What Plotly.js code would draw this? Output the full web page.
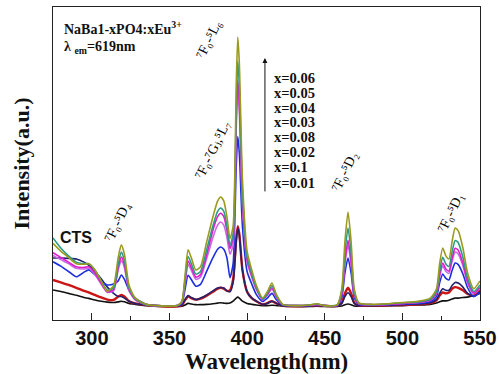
<!DOCTYPE html>
<html><head><meta charset="utf-8">
<script src="https://cdn.plot.ly/plotly-3.0.1.min.js"></script>
<style>body{margin:0;background:#fff}#c{width:499px;height:374px}</style>
</head><body><div id="c"></div>
<script>
const wavelength = [275,280,285,290,295,298,302,306,310,314,317,319,321,324,328,335,345,355,358,360,362,364,367,370,374,378,381,383,385,387,389,391,393,394,395,397,400,403,406,410,413,416,419,423,430,440,445,450,458,461,463,465,467,469,472,480,490,500,510,518,522,524,526,528,530,532,534,536,539,542,546,550];

const x006 = [24.5,22,20,18,17.8,18,16,12.5,9.2,11,20,24,21,11,7,5,4.5,4.6,6,14,22.4,20,16,17,25,33,38,39.3,38,33,26,30,75,90.4,82,45,22,16,11,7,9,11.8,8,5,4.6,4.8,5.2,4.6,4.8,10,25,34.5,25,10,5.5,5,5.2,5.6,6,7,10,18,23,20.5,19.5,25,29.4,28.5,23,15,10,12.5];
const x005 = [26.2,23,20.5,18.5,18,18,16,12.5,9.5,10.2,18.1,21.7,19,10.2,6.7,4.9,4.5,4.6,5.8,12.9,20.3,18.1,14.6,15.5,22.5,30.1,34.7,35.8,34.7,30.1,23.9,27.4,68,82.7,75,41.4,20.2,14.8,10.3,6.7,8.5,11,7.6,4.9,4.6,4.8,5.1,4.6,4.8,9.1,21.5,29.4,21.5,9.1,5.4,4.9,5.1,5.5,5.8,6.6,9.1,15.8,20,17.9,17.1,21.7,25.4,24.7,20,13.3,9.1,11.2];
const x004 = [21.5,20,18.5,17,16.8,17,15,11.8,9,9.7,16.9,20.1,17.7,9.7,6.5,4.9,4.5,4.6,5.7,12.1,18.8,16.9,13.7,14.5,20.9,28.7,33,34.1,33,28.7,22.8,26.2,63.7,76.7,69.6,38.5,19.2,14.2,10,6.5,8.1,10.3,7.3,4.9,4.6,4.7,5,4.6,4.7,8.4,18.9,25.5,18.9,8.4,5.2,4.9,5,5.3,5.6,6.4,8.6,14.5,18.2,16.3,15.6,19.7,22.9,22.3,18.2,12.3,8.6,10.4];
const x003 = [20.6,19.3,18,16.5,16.3,16.5,14.5,11.5,8.8,9.3,16,19,16.7,9.3,6.4,4.9,4.5,4.6,5.6,11.5,17.7,16,13,13.7,19.7,26.4,30.3,31.3,30.3,26.4,21,24.1,60.9,73.2,66.5,36.9,18.5,13.7,9.7,6.5,7.9,9.9,7.1,4.9,4.6,4.7,5,4.6,4.7,8.2,17.8,24,17.8,8.2,5.2,4.9,5,5.3,5.6,6.3,8.4,13.9,17.3,15.5,14.9,18.7,21.7,21.1,17.3,11.8,8.4,10.2];
const x008 = [18.6,17.2,15.5,13.8,15.3,16,14.5,12.4,11.2,11.5,12.5,14.4,13,9.5,7,5,4.5,4.6,5.3,9.7,14.3,13,10.8,11.4,15.6,19.9,22.6,23.3,22.6,19.9,13.5,18,48.9,58.6,53.3,30,15.5,11.5,8.1,5.9,7,8.5,6.4,4.8,4.6,4.6,4.9,4.6,4.6,7.3,15,19.8,15,7.3,5,4.8,4.9,5.1,5.3,5.9,7.5,11.9,14.7,13.3,12.8,15.8,18.2,17.7,14.7,10.3,7.5,9];
const x002 = [19.8,19.8,19.7,19.5,18.5,17.5,15.5,13.2,10.5,8.5,7.5,7.5,7,6,5.3,4.8,4.5,4.5,4.8,6.5,7.8,7.2,6.5,7,8,9.3,10.2,10.4,10.2,9.3,9,12,25,29.4,27,16,9,7,6,5,5.3,6,5.3,4.6,4.5,4.5,4.6,4.5,4.5,5.3,7.5,8.7,7.5,5.3,4.6,4.6,4.7,4.9,5.1,5.5,6.5,8.5,10,9.5,9.5,11,12,11.8,10.5,8.5,7.5,9];
const x01 = [12.8,12,11.2,10.3,9.3,8.8,8,7.2,6.5,6.4,7.5,8,7.5,6,5.3,4.8,4.4,4.4,4.7,6.3,7.5,7,6.5,6.8,7.8,9,10,10.3,10,9.3,9.5,13,26,30,27.5,16,9,7,6,5,5.4,6,5.3,4.6,4.4,4.5,4.6,4.5,4.5,5.5,8.5,10.3,8.5,5.5,4.6,4.6,4.7,4.8,5,5.4,6.3,7.8,8.8,8.5,8.8,10,10.5,10.3,9.5,8.3,7.8,9.5];
const x001 = [9.6,9.1,8.5,7.9,7.2,6.9,6.4,6,5.7,5.6,5.8,6,5.8,5.3,5,4.6,4.3,4.3,4.4,4.8,5.3,5.1,4.9,4.9,5,5.2,5.4,5.5,5.4,5.3,5.4,6,7,7.3,7,6,5.3,5,4.8,4.6,4.6,4.7,4.6,4.4,4.3,4.3,4.4,4.3,4.3,4.5,4.9,5.1,4.9,4.5,4.4,4.4,4.5,4.6,4.8,5,5.4,5.8,6.1,6.1,6.3,6.7,7,7,7.2,7.3,7.8,8.5];

const seriesNames = ["x=0.01","x=0.1","x=0.02","x=0.08","x=0.03","x=0.04","x=0.05","x=0.06"];
const seriesData = [x001,x01,x002,x008,x003,x004,x005,x006];
const seriesColors = ["#111111","#cc1414","#22226e","#1c2ee0","#c86ae8","#e01ec8","#2a9a8a","#9a9a1e"];
const seriesWidths = [1.6,2.4,1.6,1.6,1.6,1.6,1.6,1.6];
const legendOrder = ["x=0.06","x=0.05","x=0.04","x=0.03","x=0.08","x=0.02","x=0.1","x=0.01"];
const transitionLabels = ["⁷F₀-⁵D₄","⁷F₀-⁷Gⱼ,⁵L₇","⁷F₀-⁵L₆","⁷F₀-⁵D₂","⁷F₀-⁵D₁"];
const xTicks = [300,350,400,450,500,550];

const traces = seriesData.map((d,i)=>({
  x: wavelength, y: d, type:'scatter', mode:'lines', name: seriesNames[i],
  line:{color: seriesColors[i], width:seriesWidths[i], shape:'spline', smoothing:0.6}, showlegend:false, hoverinfo:'skip'
}));

const serif = 'Liberation Serif, DejaVu Serif, serif';
const labelFont = {family: serif, size: 14, color:'#000'};
const labelPos = [[316.2,31.3],[377.4,54.3],[375.5,89.5],[463.0,47.3],[531.3,34.2]];
const anns = [
  {x:280.8, y:93.3, text:'NaBa1-xPO4:xEu<sup>3+</sup>', xanchor:'left', font:{family:serif,size:14,color:'#111',weight:'bold'}},
  {x:280.8, y:87.0, text:'λ <sub>em</sub>=619nm', xanchor:'left', font:{family:serif,size:14,color:'#111',weight:'bold'}},
  {x:278.3, y:26.2, text:'CTS', xanchor:'left', font:{family:'Liberation Sans, Arial, sans-serif',size:16,color:'#111',weight:'bold'}},
  {x:411.5, y:83.7, ax:411.5, ay:40.6, axref:'x', ayref:'y', text:'', showarrow:true, arrowhead:2, arrowsize:1, arrowwidth:1, arrowcolor:'#111'}
];
transitionLabels.forEach((t,i)=>anns.push({x:labelPos[i][0], y:labelPos[i][1], text:t, textangle:-64, font:labelFont}));
const legY = [77.3,72.5,67.7,63.3,58.5,53.7,48.9,43.8];
legendOrder.forEach((t,i)=>anns.push({x:416, y:legY[i], text:t, xanchor:'left', font:{family:serif,size:14.5,color:'#111',weight:'bold'}}));
anns.forEach(a=>{a.xref='x'; a.yref='y'; if(a.showarrow===undefined) a.showarrow=false;});

const layout = {
  width:499, height:374, margin:{l:53, r:19, t:7, b:54},
  paper_bgcolor:'#fff', plot_bgcolor:'#fff', hovermode:false,
  xaxis:{range:[275,550], tickvals:xTicks, ticks:'inside', ticklen:7, tickwidth:1, tickcolor:'#222',
    minor:{ticks:'inside', ticklen:4, dtick:25, tick0:275, tickcolor:'#222'},
    showline:true, linecolor:'#222', linewidth:1, mirror:true, showgrid:false, zeroline:false, fixedrange:true,
    tickfont:{family:'Liberation Sans, Arial, sans-serif', size:20, color:'#111', weight:'bold'},
    title:{text:'Wavelength(nm)', font:{family:serif, size:23, color:'#111', weight:'bold'}, standoff:2}},
  yaxis:{range:[0,100], showticklabels:false, ticks:'', showline:true, linecolor:'#222', linewidth:1, mirror:true,
    showgrid:false, zeroline:false, fixedrange:true,
    title:{text:'Intensity(a.u.)', font:{family:serif, size:22, color:'#111', weight:'bold'}, standoff:16}},
  annotations: anns
};
Plotly.newPlot('c', traces, layout, {displayModeBar:false});
</script></body></html>
